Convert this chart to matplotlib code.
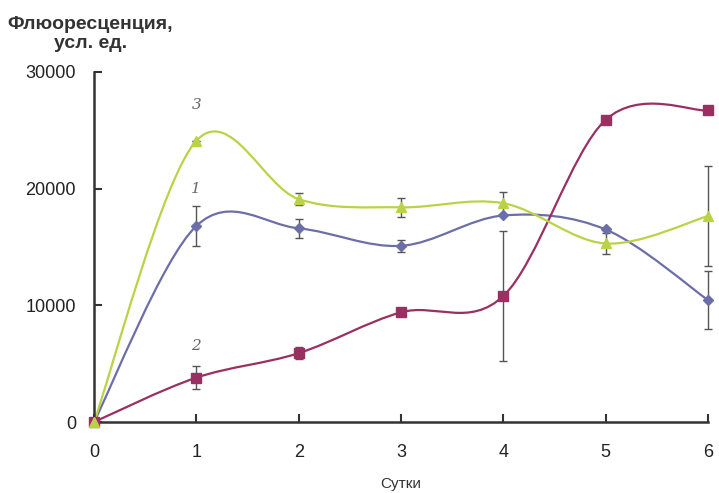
import numpy as np
import matplotlib
matplotlib.use('Agg')
import matplotlib.pyplot as plt
from matplotlib.path import Path
from matplotlib.patches import PathPatch

plt.rcParams['font.family'] = ['Liberation Sans', 'DejaVu Sans']

days = [0, 1, 2, 3, 4, 5, 6]

# 1 - blue, 2 - maroon, 3 - yellow-green
s1 = [0, 16800, 16600, 15100, 17700, 16500, 10450]
s1_err = [0, 1700, 800, 500, 0, 0, 2500]
s2 = [0, 3800, 5900, 9400, 10800, 25900, 26700]
s2_err = [0, 1000, 500, 0, 5600, 0, 0]
s3 = [0, 24100, 19100, 18400, 18750, 15300, 17650]
s3_err = [0, 0, 500, 800, 1000, 900, 4300]

labels = ['1', '2', '3']
label_pos = [(1, 20000), (1, 6500), (1, 27200)]

colors = ['#6c6ea8', '#9a2f62', '#bcd246']
markers = ['D', 's', '^']
msizes = [5, 7, 7]


def smooth_path(x, y):
    # excel-like smoothed line: cubic bezier through the points
    x = np.asarray(x, float)
    y = np.asarray(y, float)
    pts = np.column_stack([x, y])
    n = len(pts)
    verts = [pts[0]]
    codes = [Path.MOVETO]
    for i in range(n - 1):
        p0 = pts[i - 1] if i > 0 else pts[i]
        p1 = pts[i]
        p2 = pts[i + 1]
        p3 = pts[i + 2] if i + 2 < n else pts[i + 1]
        c1 = p1 + (p2 - p0) / 6.0
        c2 = p2 - (p3 - p1) / 6.0
        verts += [c1, c2, p2]
        codes += [Path.CURVE4] * 3
    return Path(verts, codes)


fig = plt.figure(figsize=(7.19, 4.93), dpi=100)
ax = fig.add_axes([0.1307, 0.144, 0.854, 0.710])

series = [(s1, s1_err), (s2, s2_err), (s3, s3_err)]
for (vals, errs), c, m, ms in zip(series, colors, markers, msizes):
    patch = PathPatch(smooth_path(days, vals), facecolor='none', edgecolor=c,
                      lw=1.6, zorder=2, clip_on=False)
    ax.add_patch(patch)
    eb = ax.errorbar(days, vals, yerr=errs, fmt='none', ecolor='#555555',
                     elinewidth=1.0, capsize=3, capthick=1.0, zorder=3)
    for art in eb.lines[1] + eb.lines[2]:
        art.set_clip_on(False)
    ax.plot(days, vals, linestyle='none', marker=m, color=c, markersize=ms,
            zorder=4, clip_on=False)

for lab, (lx, ly) in zip(labels, label_pos):
    ax.text(lx, ly, lab, fontsize=11, family='DejaVu Serif', style='italic',
            color='#666666', ha='center', va='center')

ax.set_xlim(0, 6)
ax.set_ylim(0, 30000)
ax.set_xticks(days)
ax.set_yticks([0, 10000, 20000, 30000])
for sp in ['top', 'right']:
    ax.spines[sp].set_visible(False)
for sp in ['left', 'bottom']:
    ax.spines[sp].set_linewidth(1.8)
    ax.spines[sp].set_color('#333333')
ax.tick_params(axis='both', direction='in', length=6, width=1.5,
               colors='#333333', labelsize=13, labelcolor='#222222')
ax.tick_params(axis='x', pad=16)
ax.tick_params(axis='y', pad=13)
ax.set_xlabel('Сутки', fontsize=11, color='#333333', labelpad=11)

fig.text(0.126, 0.968, 'Флюоресценция,\nусл. ед.', fontsize=14,
         fontweight='bold', color='#333333', ha='center', va='top',
         linespacing=1.15)

fig.savefig('out.png', dpi=100)
